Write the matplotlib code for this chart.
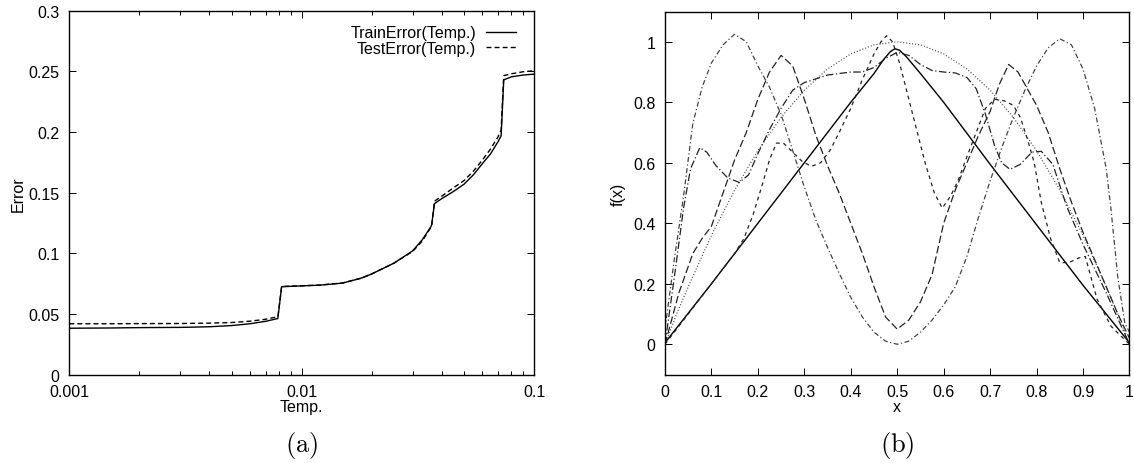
#!/usr/bin/python3

'''
Two panels: (a) train / test error vs temperature, (b) family of curves f(x)
'''

import matplotlib
matplotlib.use('Agg')
import matplotlib.pyplot as plt
from matplotlib.ticker import FixedLocator, FormatStrFormatter, LogLocator, NullFormatter

plt.rcParams['font.family'] = ['Liberation Sans', 'DejaVu Sans']
plt.rcParams['mathtext.fontset'] = 'cm'
plt.rcParams['font.size'] = 11.5

# ---- panel (a) data
temp = [0.001, 0.0015, 0.002, 0.003, 0.004, 0.005, 0.006, 0.007, 0.0079, 0.0082, 0.01, 0.012, 0.015,
        0.018, 0.02, 0.025, 0.03, 0.033, 0.036, 0.0363, 0.0373, 0.04, 0.045, 0.05, 0.055, 0.06, 0.065,
        0.07, 0.0722, 0.0741, 0.08, 0.09, 0.1]
trainError = [0.0383, 0.0385, 0.0388, 0.039, 0.0395, 0.0405, 0.042, 0.044, 0.0463, 0.0725, 0.0732, 0.0738,
              0.0755, 0.0795, 0.083, 0.092, 0.102, 0.111, 0.122, 0.124, 0.141, 0.145, 0.151, 0.157, 0.165,
              0.174, 0.182, 0.192, 0.197, 0.243, 0.2455, 0.247, 0.2477]
testError = [0.042, 0.042, 0.0421, 0.0422, 0.0425, 0.043, 0.0441, 0.0457, 0.0478, 0.0727, 0.0733, 0.0739,
             0.0756, 0.0795, 0.083, 0.092, 0.1015, 0.110, 0.1215, 0.123, 0.143, 0.147, 0.154, 0.160, 0.168,
             0.177, 0.186, 0.196, 0.2017, 0.2465, 0.248, 0.2497, 0.2505]

# ---- panel (b) data, one x list per curve
xSolid = [0, 0.1, 0.2, 0.3, 0.4, 0.45, 0.47, 0.485, 0.495, 0.505, 0.52, 0.55, 0.6, 0.7, 0.8, 0.9, 1.0]
fSolid = [0.005, 0.2, 0.40, 0.60, 0.80, 0.895, 0.94, 0.967, 0.977, 0.972, 0.95, 0.895, 0.80, 0.595, 0.395,
          0.195, 0.005]

xDot = [0, 0.025, 0.05, 0.1, 0.15, 0.2, 0.25, 0.3, 0.35, 0.4, 0.45, 0.5, 0.55, 0.6, 0.65, 0.7, 0.75, 0.8,
        0.85, 0.9, 0.95, 0.975, 1.0]
fDot = [0, 0.1, 0.19, 0.36, 0.51, 0.64, 0.75, 0.84, 0.91, 0.96, 0.99, 1.0, 0.99, 0.96, 0.91, 0.84, 0.75,
        0.64, 0.51, 0.36, 0.19, 0.1, 0]

xHump = [0, 0.02, 0.04, 0.06, 0.08, 0.1, 0.125, 0.15, 0.175, 0.2, 0.225, 0.25, 0.275, 0.3, 0.325, 0.35,
         0.375, 0.4, 0.425, 0.45, 0.475, 0.5, 0.525, 0.55, 0.575, 0.6, 0.625, 0.65, 0.675, 0.7, 0.725, 0.75,
         0.775, 0.8, 0.825, 0.85, 0.875, 0.9, 0.925, 0.95, 0.96, 0.975, 0.99, 1.0]
fHump = [0.05, 0.28, 0.49, 0.73, 0.85, 0.93, 0.99, 1.025, 1.0, 0.92, 0.85, 0.76, 0.64, 0.52, 0.41, 0.32,
         0.235, 0.155, 0.09, 0.04, 0.01, 0.0, 0.01, 0.04, 0.08, 0.13, 0.19, 0.29, 0.42, 0.54, 0.65, 0.75,
         0.84, 0.92, 0.98, 1.01, 0.99, 0.91, 0.78, 0.58, 0.45, 0.22, 0.07, 0.04]

xLong = [0, 0.03, 0.06, 0.08, 0.1, 0.125, 0.15, 0.175, 0.2, 0.225, 0.25, 0.275, 0.3, 0.325, 0.35, 0.375,
         0.4, 0.425, 0.45, 0.475, 0.5, 0.525, 0.55, 0.575, 0.6, 0.625, 0.65, 0.675, 0.7, 0.72, 0.74, 0.76,
         0.8, 0.825, 0.85, 0.875, 0.9, 0.925, 0.95, 0.975, 1.0]
fLong = [0.0, 0.17, 0.30, 0.35, 0.39, 0.50, 0.61, 0.70, 0.81, 0.90, 0.955, 0.92, 0.81, 0.69, 0.59, 0.50,
         0.40, 0.30, 0.19, 0.09, 0.05, 0.08, 0.14, 0.23, 0.40, 0.51, 0.60, 0.69, 0.77, 0.86, 0.925, 0.90,
         0.79, 0.70, 0.58, 0.47, 0.37, 0.28, 0.19, 0.1, 0.02]

xPlat = [0, 0.02, 0.04, 0.055, 0.075, 0.09, 0.11, 0.135, 0.16, 0.18, 0.2, 0.225, 0.25, 0.275, 0.3, 0.35,
         0.4, 0.425, 0.45, 0.475, 0.5, 0.525, 0.55, 0.575, 0.6, 0.625, 0.65, 0.67, 0.69, 0.71, 0.725, 0.743,
         0.765, 0.79, 0.81, 0.835, 0.865, 0.9, 0.95, 1.0]
fPlat = [0.0, 0.22, 0.45, 0.58, 0.65, 0.635, 0.59, 0.55, 0.535, 0.56, 0.63, 0.71, 0.78, 0.84, 0.865, 0.89,
         0.90, 0.90, 0.915, 0.945, 0.965, 0.955, 0.925, 0.905, 0.90, 0.897, 0.882, 0.845, 0.76, 0.655, 0.60,
         0.578, 0.595, 0.635, 0.638, 0.595, 0.455, 0.33, 0.17, 0.0]

xShort = [0, 0.05, 0.1, 0.15, 0.17, 0.19, 0.21, 0.225, 0.24, 0.255, 0.275, 0.295, 0.315, 0.335, 0.355, 0.375,
          0.4, 0.425, 0.45, 0.465, 0.477, 0.49, 0.505, 0.52, 0.54, 0.56, 0.58, 0.597, 0.615, 0.632, 0.65,
          0.67, 0.69, 0.71, 0.73, 0.75, 0.765, 0.78, 0.795, 0.81, 0.83, 0.85, 0.87, 0.89, 0.905, 0.93, 0.96,
          1.0]
fShort = [0, 0.1, 0.2, 0.3, 0.35, 0.43, 0.53, 0.61, 0.665, 0.665, 0.635, 0.605, 0.588, 0.6, 0.64, 0.70,
          0.78, 0.875, 0.96, 1.0, 1.02, 1.0, 0.93, 0.84, 0.72, 0.60, 0.5, 0.45, 0.49, 0.545, 0.62, 0.7,
          0.78, 0.81, 0.805, 0.79, 0.75, 0.68, 0.6, 0.47, 0.35, 0.27, 0.27, 0.285, 0.29, 0.15, 0.06, 0.0]

fig = plt.figure(figsize=(11.34, 4.64), dpi=100)
axA = fig.add_axes([0.0611, 0.1903, 0.4098, 0.7845])
axB = fig.add_axes([0.5864, 0.1907, 0.4096, 0.7823])

for ax in (axA, axB):
    for sp in ax.spines.values():
        sp.set_linewidth(1.0)
    ax.tick_params(which='both', direction='in', top=True, right=True, width=0.7, labelsize=11.5)
    ax.tick_params(which='major', length=5.3, pad=7)
    ax.tick_params(which='minor', length=3)

# ---- (a)
axA.plot(temp, trainError, color='black', lw=1.0, label='TrainError(Temp.)')
axA.plot(temp, testError, color='black', lw=1.0, dashes=(3.6, 2.2), label='TestError(Temp.)')
axA.set_xscale('log')
axA.set_xlim(0.001, 0.1)
axA.set_ylim(0, 0.3)
axA.xaxis.set_major_locator(FixedLocator([0.001, 0.01, 0.1]))
axA.xaxis.set_major_formatter(FormatStrFormatter('%g'))
axA.xaxis.set_minor_locator(LogLocator(base=10, subs=range(2, 10)))
axA.xaxis.set_minor_formatter(NullFormatter())
axA.yaxis.set_major_locator(FixedLocator([0, 0.05, 0.1, 0.15, 0.2, 0.25, 0.3]))
axA.yaxis.set_major_formatter(FormatStrFormatter('%g'))
axA.set_xlabel('Temp.', labelpad=0)
axA.set_ylabel('Error', labelpad=2)
axA.legend(loc='upper right', bbox_to_anchor=(0.961, 0.96), frameon=False, markerfirst=False,
           borderaxespad=0, borderpad=0, handlelength=1.9, handletextpad=0.6, labelspacing=0.05)

# ---- (b)
axB.plot(xSolid, fSolid, color='black', lw=1.0)
axB.plot(xDot, fDot, color='#444444', lw=0.9, dashes=(0.8, 1.6))
axB.plot(xHump, fHump, color='#444444', lw=0.9, dashes=(4, 2, 1, 2))
axB.plot(xLong, fLong, color='#222222', lw=0.9, dashes=(6, 2.5))
axB.plot(xPlat, fPlat, color='#222222', lw=0.9, dashes=(6, 2, 1, 2))
axB.plot(xShort, fShort, color='#222222', lw=0.9, dashes=(3, 3))
axB.set_xlim(0, 1)
axB.set_ylim(-0.1, 1.1)
axB.xaxis.set_major_locator(FixedLocator([i / 10 for i in range(11)]))
axB.xaxis.set_major_formatter(FormatStrFormatter('%g'))
axB.yaxis.set_major_locator(FixedLocator([0, 0.2, 0.4, 0.6, 0.8, 1.0]))
axB.yaxis.set_major_formatter(FormatStrFormatter('%g'))
axB.set_xlabel('x', labelpad=0)
axB.set_ylabel('f(x)', labelpad=5)

fig.text(0.266, 0.04, r'$(\mathrm{a})$', fontsize=19, ha='center', va='center')
fig.text(0.791, 0.04, r'$(\mathrm{b})$', fontsize=19, ha='center', va='center')

fig.savefig('out.png', dpi=100)
plt.close('all')
